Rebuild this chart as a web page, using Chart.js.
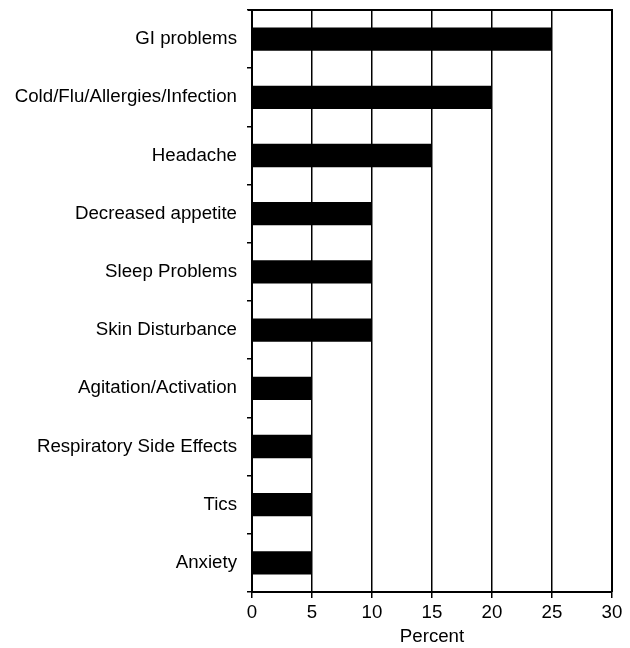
<!DOCTYPE html>
<html>
<head>
<meta charset="utf-8">
<script src="https://cdn.jsdelivr.net/npm/chart.js@4"></script>
<style>
	body { margin: 0; background: #fff; }
	#wrap { width: 630px; height: 648px; }
</style>
</head>
<body>
<div id="wrap"><canvas id="chartSide"></canvas></div>
<script>
// Donnees du graphique
var categories = ["GI problems", "Cold/Flu/Allergies/Infection", "Headache", "Decreased appetite", "Sleep Problems", "Skin Disturbance", "Agitation/Activation", "Respiratory Side Effects", "Tics", "Anxiety"];
var percents = [25, 20, 15, 10, 10, 10, 5, 5, 5, 5];
var xTicks = [0, 5, 10, 15, 20, 25, 30];

// cadre autour de la zone du graphique
var frame = {
	id: 'frame',
	afterDraw: function(chart) {
		var a = chart.chartArea, ctx = chart.ctx;
		ctx.save();
		ctx.strokeStyle = '#000';
		ctx.lineWidth = 2;
		ctx.beginPath();
		ctx.moveTo(a.left - 4, a.top);
		ctx.lineTo(a.right, a.top);
		ctx.lineTo(a.right, a.bottom);
		ctx.stroke();
		ctx.restore();
	}
};

var font = { family: "'Liberation Sans', Arial, sans-serif", size: 18.7 };

var chartSide = new Chart(document.getElementById("chartSide"), {
	type: 'bar',
	data: {
		labels: categories,
		datasets: [{
			data: percents,
			backgroundColor: '#000',
			borderWidth: 0,
			barPercentage: 0.4,
			categoryPercentage: 1
		}]
	},
	options: {
		indexAxis: 'y',
		responsive: true,
		maintainAspectRatio: false,
		animation: false,
		layout: { padding: { top: 10, right: 18, left: 0, bottom: 0 } },
		plugins: { legend: { display: false }, tooltip: { enabled: false } },
		scales: {
			x: {
				min: 0,
				max: 30,
				afterBuildTicks: function(s) { s.ticks = xTicks.map(function(v) { return { value: v }; }); },
				afterFit: function(s) { s.height = 56; },
				grid: { color: '#000', lineWidth: 1.5, tickLength: 6 },
				border: { color: '#000', width: 2 },
				ticks: { color: '#000', font: font, padding: 4, maxRotation: 0 },
				title: { display: true, text: 'Percent', color: '#000', font: font, padding: { top: 0, bottom: 0 } }
			},
			y: {
				afterFit: function(s) { s.width = 252; s.paddingTop = 0; s.paddingBottom = 0; },
				grid: { color: '#000', lineWidth: 1.5, drawOnChartArea: false, tickLength: 5, offset: true },
				border: { color: '#000', width: 2 },
				ticks: { color: '#000', font: font, padding: 10 }
			}
		}
	},
	plugins: [frame]
});
</script>
</body>
</html>
